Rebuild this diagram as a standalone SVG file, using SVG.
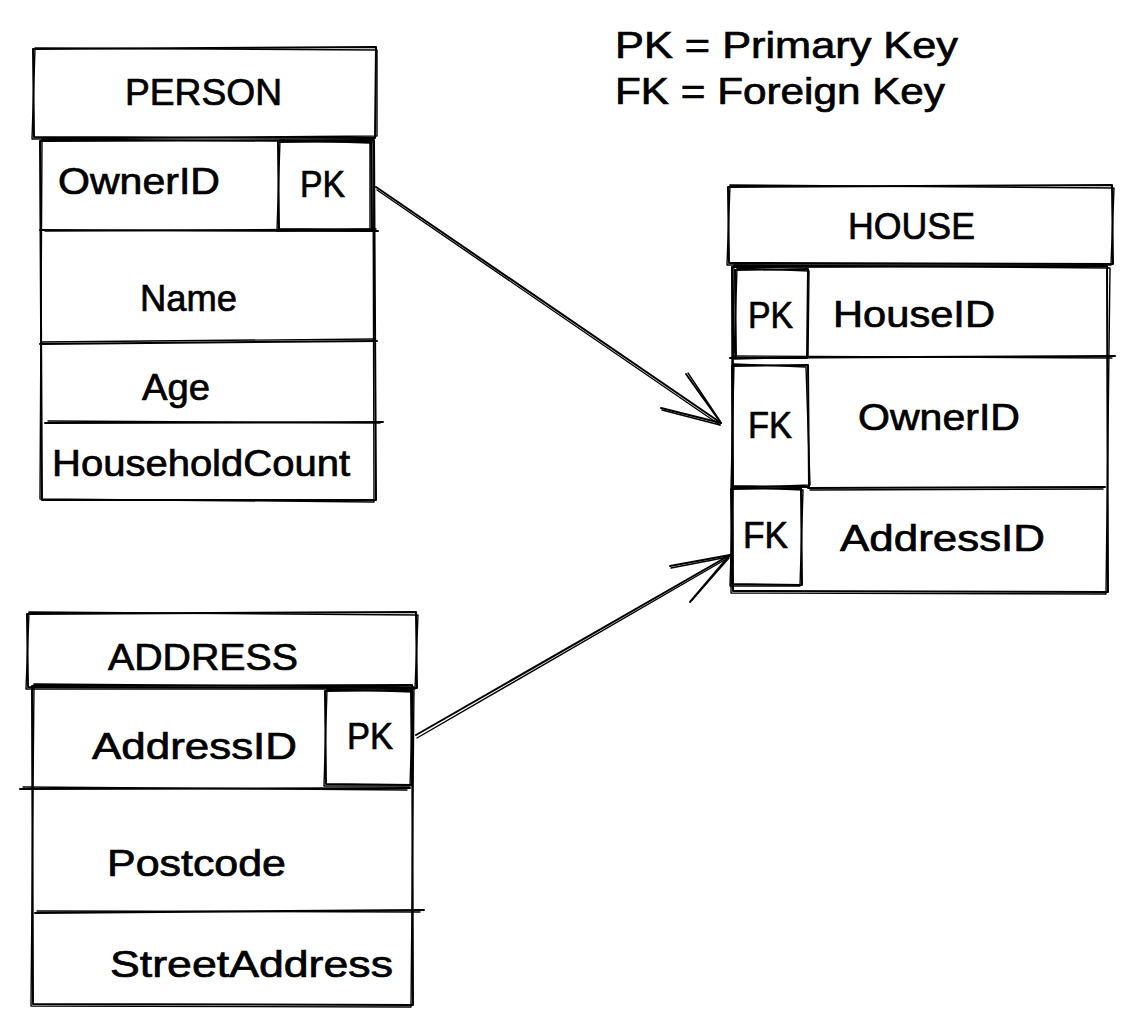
<svg xmlns="http://www.w3.org/2000/svg" width="1134" height="1025" viewBox="0 0 1134 1025">
<style>
.ln{fill:none;stroke:#000;stroke-width:2;stroke-linecap:round;stroke-linejoin:round}
.ln2{fill:none;stroke:#000;stroke-width:1.4;stroke-linecap:round;stroke-linejoin:round}
.t{font-family:"Liberation Sans",Arial,sans-serif;font-size:37px;fill:#000;stroke:#000;stroke-width:0.7}
</style>
<rect width="1134" height="1025" fill="#fff"/>

<g id="legend">
<text class="t" x="615" y="58" textLength="343" lengthAdjust="spacingAndGlyphs">PK = Primary Key</text>
<text class="t" x="615" y="104" textLength="330" lengthAdjust="spacingAndGlyphs">FK = Foreign Key</text>
</g>

<g id="person">
<path class="ln" d="M33 49 L376 47 L375 138 L34 137 Z"/>
<path class="ln2" d="M35 48 L377 50 L377 136 L32 139 Z"/>
<path class="ln" d="M40 141 L374 140 L376 500 L42 500 Z"/>
<path class="ln2" d="M42 139 L373 142 L374 502 L40 499 Z"/>
<path class="ln" d="M278 142 L371 141 L372 230 L279 229 Z"/>
<path class="ln2" d="M280 140 L370 143 L370 229 L277 231 Z"/>
<path class="ln" d="M40 230 L378 231"/>
<path class="ln2" d="M45 231 L376 229"/>
<path class="ln" d="M40 344 L377 341"/>
<path class="ln2" d="M42 342 L375 339"/>
<path class="ln" d="M45 423 L383 422"/>
<path class="ln2" d="M48 421 L380 423"/>
<text class="t" x="125" y="105" textLength="157" lengthAdjust="spacingAndGlyphs">PERSON</text>
<text class="t" x="58" y="194" textLength="162" lengthAdjust="spacingAndGlyphs">OwnerID</text>
<text class="t" x="300" y="197" textLength="45" lengthAdjust="spacingAndGlyphs">PK</text>
<text class="t" x="140" y="311" textLength="97" lengthAdjust="spacingAndGlyphs">Name</text>
<text class="t" x="142" y="400" textLength="68" lengthAdjust="spacingAndGlyphs">Age</text>
<text class="t" x="52" y="476" textLength="298" lengthAdjust="spacingAndGlyphs">HouseholdCount</text>
</g>

<g id="house">
<path class="ln" d="M728 187 L1112 185 L1113 264 L729 263 Z"/>
<path class="ln2" d="M730 185 L1114 188 L1111 265 L727 265 Z"/>
<path class="ln" d="M732 267 L1107 266 L1108 592 L733 591 Z"/>
<path class="ln2" d="M734 265 L1110 268 L1106 594 L731 593 Z"/>
<path class="ln" d="M735 270 L808 269 L807 358 L736 358 Z"/>
<path class="ln2" d="M737 268 L809 271 L808 357 L734 359 Z"/>
<path class="ln" d="M730 358 L1115 356"/>
<path class="ln2" d="M733 356 L1112 358"/>
<path class="ln" d="M732 366 L808 365 L809 487 L733 486 Z"/>
<path class="ln2" d="M734 364 L806 367 L810 485 L731 488 Z"/>
<path class="ln" d="M808 488 L1105 487"/>
<path class="ln2" d="M810 490 L1103 489"/>
<path class="ln" d="M731 489 L801 488 L802 585 L732 584 Z"/>
<path class="ln2" d="M733 487 L803 490 L800 586 L730 586 Z"/>
<text class="t" x="848" y="239" textLength="127" lengthAdjust="spacingAndGlyphs">HOUSE</text>
<text class="t" x="748" y="328" textLength="45" lengthAdjust="spacingAndGlyphs">PK</text>
<text class="t" x="833" y="327" textLength="162" lengthAdjust="spacingAndGlyphs">HouseID</text>
<text class="t" x="748" y="438" textLength="44" lengthAdjust="spacingAndGlyphs">FK</text>
<text class="t" x="858" y="430" textLength="162" lengthAdjust="spacingAndGlyphs">OwnerID</text>
<text class="t" x="743" y="548" textLength="45" lengthAdjust="spacingAndGlyphs">FK</text>
<text class="t" x="840" y="551" textLength="205" lengthAdjust="spacingAndGlyphs">AddressID</text>
</g>

<g id="address">
<path class="ln" d="M27 614 L416 612 L417 688 L28 687 Z"/>
<path class="ln2" d="M29 612 L418 615 L415 689 L26 689 Z"/>
<path class="ln" d="M32 686 L412 685 L413 1005 L33 1004 Z"/>
<path class="ln2" d="M34 684 L414 687 L411 1007 L31 1006 Z"/>
<path class="ln" d="M325 691 L411 690 L412 785 L326 784 Z"/>
<path class="ln2" d="M327 689 L413 692 L410 786 L324 786 Z"/>
<path class="ln" d="M20 789 L410 788"/>
<path class="ln2" d="M23 787 L407 790"/>
<path class="ln" d="M35 913 L424 910"/>
<path class="ln2" d="M37 911 L420 912"/>
<text class="t" x="108" y="670" textLength="190" lengthAdjust="spacingAndGlyphs">ADDRESS</text>
<text class="t" x="92" y="759" textLength="205" lengthAdjust="spacingAndGlyphs">AddressID</text>
<text class="t" x="347" y="749" textLength="46" lengthAdjust="spacingAndGlyphs">PK</text>
<text class="t" x="107" y="876" textLength="179" lengthAdjust="spacingAndGlyphs">Postcode</text>
<text class="t" x="110" y="977" textLength="283" lengthAdjust="spacingAndGlyphs">StreetAddress</text>
</g>

<g id="connectors">
<path class="ln" d="M376 187 L721 423"/>
<path class="ln2" d="M377 190 L720 425"/>
<path class="ln" d="M686 374 L721 423 M661 408 L721 423"/>
<path class="ln2" d="M688 373 L720 421 M662 410 L720 425"/>
<path class="ln" d="M416 735 L730 555"/>
<path class="ln2" d="M417 738 L728 558"/>
<path class="ln" d="M670 566 L730 555 M690 602 L730 555"/>
<path class="ln2" d="M671 568 L728 557 M692 600 L729 558"/>
</g>
</svg>
